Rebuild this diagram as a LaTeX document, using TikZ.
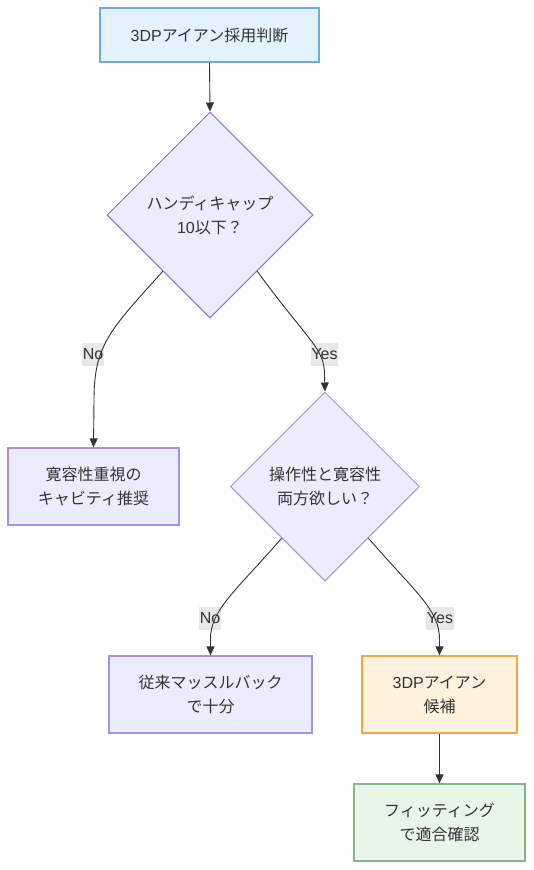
\documentclass[tikz,border=0pt]{standalone}
\usepackage{fontspec}
\setmainfont{Noto Sans CJK JP}
\newfontfamily\lat{Liberation Sans}
\usetikzlibrary{shapes.geometric,arrows.meta}
\definecolor{txt}{HTML}{333333}
\definecolor{bluefill}{HTML}{E3F2FD}
\definecolor{bluedraw}{HTML}{6FAAE8}
\definecolor{purfill}{HTML}{ECECFF}
\definecolor{purdraw}{HTML}{9370DB}
\definecolor{purlight}{HTML}{A98FE6}
\definecolor{orfill}{HTML}{FFF3E0}
\definecolor{ordraw}{HTML}{F5A742}
\definecolor{grfill}{HTML}{E8F5E9}
\definecolor{grdraw}{HTML}{82B882}
\definecolor{lblfill}{HTML}{E8E8E8}
\begin{document}
\begin{tikzpicture}[x=1pt,y=-1pt,
  every node/.style={text=txt,font=\fontsize{16}{24}\selectfont,align=center},
  boxbase/.style={rectangle,line width=1.3pt,inner sep=0pt},
  startbox/.style={boxbase,fill=bluefill,draw=bluedraw},
  purbox/.style={boxbase,fill=purfill,draw=purlight},
  orbox/.style={boxbase,fill=orfill,draw=ordraw},
  grbox/.style={boxbase,fill=grfill,draw=grdraw},
  decision/.style={diamond,aspect=1,inner sep=0pt,fill=purfill,line width=1pt},
  lbl/.style={fill=lblfill,inner xsep=0.5pt,inner ysep=0pt,minimum height=23pt,font=\lat\fontsize{16}{24}\selectfont},
  edge/.style={draw=txt,line width=0.9pt,-{Triangle[length=9pt,width=8pt]}}
]
\useasboundingbox (0,0) rectangle (534,870);

\node[startbox,minimum width=219pt,minimum height=54pt] (start) at (209.5,35) {{\lat 3DP}アイアン採用判断};
\node[decision,draw=purdraw,minimum width=206pt,minimum height=206pt] (d1) at (210,215) {ハンディキャップ\\{\lat 10}以下？};
\node[purbox,minimum width=171pt,minimum height=77pt] (b1) at (93.5,486.5) {寛容性重視の\\キャビティ推奨};
\node[decision,draw=purlight,minimum width=189pt,minimum height=189pt] (d2) at (325,486.5) {操作性と寛容性\\両方欲しい？};
\node[purbox,minimum width=203pt,minimum height=77pt] (b2) at (210.5,694.5) {従来マッスルバック\\で十分};
\node[orbox,minimum width=155pt,minimum height=77pt] (b3) at (439.5,694.5) {{\lat 3DP}アイアン\\候補};
\node[grbox,minimum width=171pt,minimum height=77pt] (b4) at (439.5,822.5) {フィッティング\\で適合確認};

\node[lbl] (l1) at (93,354.5) {No};
\node[lbl] (l2) at (324.5,354.5) {Yes};
\node[lbl] (l3) at (210,618) {No};
\node[lbl] (l4) at (440,618) {Yes};

\draw[edge] (start.south) -- (d1.north);
\draw[edge] (d1.-130) .. controls (110,330) and (94,345) .. (94,400) -- (b1.north);
\draw[edge] (d1.-50) .. controls (309,342) and (324.5,348) .. (324.5,375) -- (d2.north);
\draw[edge] (d2.-130) .. controls (235,592) and (210,610) .. (210.5,640) -- (b2.north);
\draw[edge] (d2.-50) .. controls (415,592) and (440,610) .. (439.5,640) -- (b3.north);
\draw[edge] (b3.south) -- (b4.north);
\end{tikzpicture}
\end{document}
